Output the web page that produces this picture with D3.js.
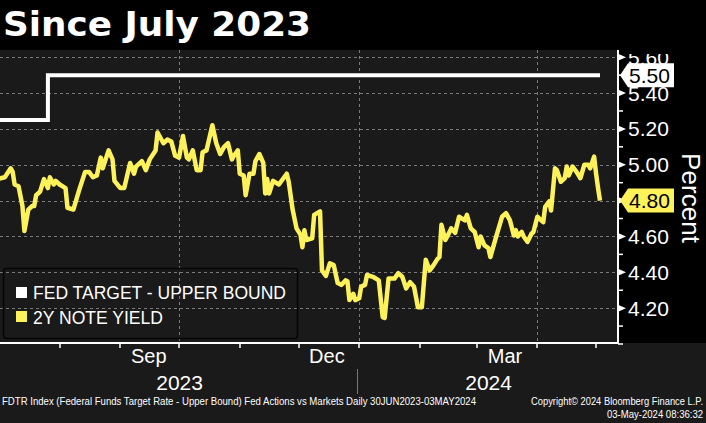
<!DOCTYPE html>
<html><head><meta charset="utf-8">
<script src="https://cdn.jsdelivr.net/npm/d3@7"></script>
<style>html,body{margin:0;padding:0;background:#1a1a1a;overflow:hidden}</style>
</head><body>
<svg id="c" width="706" height="423"></svg>
<script>
const yieldDates = ["2023-06-30","2023-07-04","2023-07-07","2023-07-08","2023-07-09","2023-07-11","2023-07-13","2023-07-14","2023-07-16","2023-07-18","2023-07-19","2023-07-20","2023-07-22","2023-07-24","2023-07-26","2023-07-27","2023-07-29","2023-07-30","2023-08-01","2023-08-04","2023-08-05","2023-08-08","2023-08-11","2023-08-14","2023-08-16","2023-08-18","2023-08-20","2023-08-22","2023-08-23","2023-08-26","2023-08-28","2023-08-29","2023-09-01","2023-09-03","2023-09-06","2023-09-08","2023-09-09","2023-09-12","2023-09-14","2023-09-16","2023-09-19","2023-09-20","2023-09-23","2023-09-25","2023-09-27","2023-09-29","2023-10-01","2023-10-03","2023-10-05","2023-10-06","2023-10-08","2023-10-10","2023-10-12","2023-10-13","2023-10-15","2023-10-18","2023-10-20","2023-10-22","2023-10-23","2023-10-24","2023-10-26","2023-10-28","2023-10-29","2023-10-31","2023-11-01","2023-11-03","2023-11-04","2023-11-06","2023-11-08","2023-11-09","2023-11-11","2023-11-13","2023-11-14","2023-11-15","2023-11-16","2023-11-18","2023-11-21","2023-11-22","2023-11-25","2023-11-26","2023-11-28","2023-11-30","2023-12-02","2023-12-03","2023-12-04","2023-12-05","2023-12-08","2023-12-09","2023-12-12","2023-12-13","2023-12-15","2023-12-17","2023-12-19","2023-12-21","2023-12-23","2023-12-25","2023-12-26","2023-12-27","2023-12-29","2023-12-30","2024-01-01","2024-01-02","2024-01-04","2024-01-05","2024-01-08","2024-01-11","2024-01-13","2024-01-14","2024-01-16","2024-01-19","2024-01-21","2024-01-23","2024-01-25","2024-01-27","2024-01-29","2024-01-31","2024-02-02","2024-02-04","2024-02-06","2024-02-08","2024-02-10","2024-02-11","2024-02-12","2024-02-14","2024-02-15","2024-02-17","2024-02-19","2024-02-21","2024-02-24","2024-02-25","2024-02-27","2024-02-29","2024-03-02","2024-03-03","2024-03-05","2024-03-07","2024-03-08","2024-03-11","2024-03-14","2024-03-16","2024-03-18","2024-03-20","2024-03-21","2024-03-22","2024-03-24","2024-03-25","2024-03-27","2024-03-29","2024-03-30","2024-04-01","2024-04-04","2024-04-05","2024-04-07","2024-04-08","2024-04-10","2024-04-11","2024-04-13","2024-04-15","2024-04-16","2024-04-17","2024-04-19","2024-04-21","2024-04-23","2024-04-25","2024-04-27","2024-04-28","2024-04-30","2024-05-01","2024-05-02","2024-05-03"];
const yieldValues = [4.92,4.93,4.98,4.96,4.89,4.88,4.77,4.63,4.75,4.77,4.77,4.83,4.85,4.92,4.87,4.93,4.89,4.91,4.89,4.87,4.76,4.75,4.86,4.96,4.96,4.93,4.94,5.04,4.98,5.08,5.03,4.91,4.87,4.87,5.01,4.95,4.99,5.02,4.97,5.03,5.08,5.18,5.12,5.14,5.13,5.05,5.04,5.16,5.04,5.03,5.08,4.97,4.97,5.07,5.08,5.22,5.12,5.06,5.08,5.10,5.12,5.03,5.05,5.08,4.95,4.94,4.83,4.95,4.95,5.02,5.06,5.01,4.84,4.92,4.84,4.91,4.89,4.905,4.95,4.905,4.75,4.645,4.61,4.54,4.635,4.58,4.59,4.72,4.74,4.41,4.38,4.45,4.44,4.34,4.33,4.355,4.35,4.245,4.28,4.245,4.255,4.32,4.33,4.385,4.375,4.355,4.15,4.145,4.365,4.365,4.395,4.375,4.31,4.345,4.32,4.205,4.205,4.47,4.41,4.44,4.475,4.485,4.665,4.58,4.60,4.645,4.62,4.71,4.69,4.72,4.645,4.625,4.54,4.60,4.55,4.535,4.485,4.60,4.71,4.73,4.69,4.605,4.635,4.60,4.625,4.60,4.57,4.615,4.625,4.71,4.68,4.765,4.795,4.745,4.98,4.97,4.905,4.925,4.99,4.94,4.99,4.96,4.925,5.00,5.00,4.98,5.045,4.95,4.87,4.80];
const fedDates = ["2023-06-30","2023-07-26","2024-05-03"];
const fedValues = [5.25, 5.50, 5.50];
const yMajorTicks = [4.20,4.40,4.60,4.80,5.00,5.20,5.40,5.60];
const yMinorTicks = [4.00,4.10,4.30,4.50,4.70,4.90,5.10,5.30,5.50];
const monthLabels = ["Sep","Dec","Mar"];
const monthLabelDates = ["2023-09-15","2023-12-15","2024-03-15"];
const quarterGridDates = ["2023-10-01","2024-01-01","2024-04-01"];
const yearLabels = ["2023","2024"];
const legendLabels = ["FED TARGET - UPPER BOUND","2Y NOTE YIELD"];
const lastValues = [5.50, 4.80];
const title = "Since July 2023";
const axisTitle = "Percent";
const footerLeft = "FDTR Index (Federal Funds Target Rate - Upper Bound) Fed Actions vs Markets  Daily 30JUN2023-03MAY2024";
const footerRight1 = "Copyright\u00A9 2024 Bloomberg Finance L.P.";
const footerRight2 = "03-May-2024 08:36:32";

const WHITE = "#ffffff", YELLOW = "#fdf25a", GRID = "#7a7a7a";
const FONT = "'Liberation Sans', Arial, sans-serif";
const parse = d3.timeParse("%Y-%m-%d");
const svg = d3.select("#c");

const plot = {left: 0, right: 618, top: 50, bottom: 343};
const x = d3.scaleTime().domain([parse("2023-06-30"), parse("2024-05-03")]).range([-3, 600]);
const y = d3.scaleLinear().domain([4.0, 5.6]).range([344, 57.2]);

// backgrounds
svg.append("rect").attr("x",0).attr("y",0).attr("width",706).attr("height",423).attr("fill","#1a1a1a");
svg.append("rect").attr("x",plot.right).attr("y",plot.top).attr("width",706-plot.right).attr("height",plot.bottom-plot.top).attr("fill","#000");

// grid
const grid = svg.append("g").attr("stroke",GRID).attr("stroke-width",1).attr("stroke-dasharray","3,3");
grid.selectAll("line.h").data(yMajorTicks).join("line")
  .attr("x1",plot.left).attr("x2",plot.right).attr("y1",d=>Math.round(y(d))+0.5).attr("y2",d=>Math.round(y(d))+0.5);
grid.selectAll("line.v").data(quarterGridDates).join("line")
  .attr("x1",d=>Math.round(x(parse(d)))+0.5).attr("x2",d=>Math.round(x(parse(d)))+0.5).attr("y1",plot.top).attr("y2",plot.bottom);

// clip
svg.append("clipPath").attr("id","pc").append("rect")
  .attr("x",plot.left).attr("y",plot.top).attr("width",plot.right-plot.left).attr("height",plot.bottom-plot.top);

const fedData = fedDates.map((d,i)=>({d:parse(d), v:fedValues[i]}));
const yData = yieldDates.map((d,i)=>({d:parse(d), v:yieldValues[i]}));
const g = svg.append("g").attr("clip-path","url(#pc)");
g.append("path").datum(fedData)
  .attr("d", d3.line().x(p=>x(p.d)).y(p=>y(p.v)).curve(d3.curveStepAfter))
  .attr("fill","none").attr("stroke",WHITE).attr("stroke-width",4);
g.append("path").datum(yData)
  .attr("d", d3.line().x(p=>x(p.d)).y(p=>y(p.v)))
  .attr("fill","none").attr("stroke",YELLOW).attr("stroke-width",4.5).attr("stroke-linejoin","round");

// legend
const lg = svg.append("g");
lg.append("rect").attr("x",3.5).attr("y",268.5).attr("width",294).attr("height",70).attr("rx",3)
  .attr("fill","none").attr("stroke","#050505").attr("stroke-width",1.5);
const lcol = [WHITE, YELLOW];
legendLabels.forEach((t,i)=>{
  lg.append("rect").attr("x",16).attr("y",287+i*24).attr("width",11).attr("height",11).attr("fill",lcol[i]);
  const tx = lg.append("text").attr("x",33).attr("y",299+i*24.5).attr("fill","#fff")
    .attr("font-family",FONT).attr("font-size",18).text(t);
  if(i===0) tx.attr("textLength",253).attr("lengthAdjust","spacingAndGlyphs");
  else tx.attr("textLength",130).attr("lengthAdjust","spacingAndGlyphs");
});

// right axis
const ra = svg.append("g");
ra.selectAll("path.tk").data(yMajorTicks).join("path")
  .attr("d",d=>{const yy=y(d);return `M${plot.right},${yy-3.5}L${plot.right+8},${yy}L${plot.right},${yy+3.5}Z`;})
  .attr("fill",WHITE);
ra.selectAll("line.mt").data(yMinorTicks).join("line")
  .attr("x1",plot.right).attr("x2",plot.right+5).attr("y1",d=>y(d)).attr("y2",d=>y(d))
  .attr("stroke",WHITE).attr("stroke-width",1.5);
ra.selectAll("text").data(yMajorTicks).join("text")
  .attr("x",628).attr("y",d=>y(d)+7.5).attr("fill","#fff").attr("font-family",FONT).attr("font-size",21)
  .text(d=>d.toFixed(2));
// title band over right axis top
svg.append("rect").attr("x",0).attr("y",0).attr("width",706).attr("height",plot.top).attr("fill","#000");
svg.append("rect").attr("x",plot.right+1).attr("y",0).attr("width",706-plot.right).attr("height",54).attr("fill","#000");

// value tags
const tagCols = [WHITE, YELLOW];
lastValues.forEach((v,i)=>{
  const yy = y(v);
  svg.append("path").attr("d",`M620,${yy}L628,${yy-12}L674,${yy-12}L674,${yy+12}L628,${yy+12}Z`).attr("fill",tagCols[i]);
  svg.append("text").attr("x",629).attr("y",yy+7.5).attr("fill","#000").attr("font-family",FONT).attr("font-size",21).text(v.toFixed(2));
});

// axis lines
svg.append("line").attr("x1",plot.right).attr("x2",plot.right).attr("y1",plot.top).attr("y2",plot.bottom+1)
  .attr("stroke",WHITE).attr("stroke-width",2);
svg.append("line").attr("x1",0).attr("x2",plot.right+1).attr("y1",plot.bottom).attr("y2",plot.bottom)
  .attr("stroke",WHITE).attr("stroke-width",2);

// bottom ticks
const months = x.ticks(d3.timeMonth.every(1)).filter(d=>x(d)>=0 && x(d)<=plot.right);
svg.selectAll("line.bt").data(months).join("line")
  .attr("x1",d=>Math.round(x(d))).attr("x2",d=>Math.round(x(d))).attr("y1",plot.bottom).attr("y2",plot.bottom+5)
  .attr("stroke",WHITE).attr("stroke-width",1.5);
svg.selectAll("text.ml").data(monthLabels).join("text")
  .attr("x",(d,i)=>x(parse(monthLabelDates[i]))+1).attr("y",363).attr("text-anchor","middle")
  .attr("fill","#fff").attr("font-family",FONT).attr("font-size",20).text(d=>d);
const jan = x(parse("2024-01-01"));
const yearCenters = [(0+jan)/2, (jan+plot.right)/2];
svg.selectAll("text.yl").data(yearLabels).join("text")
  .attr("x",(d,i)=>yearCenters[i]).attr("y",390).attr("text-anchor","middle")
  .attr("fill","#fff").attr("font-family",FONT).attr("font-size",21).text(d=>d);
svg.append("line").attr("x1",Math.round(jan)-1.5).attr("x2",Math.round(jan)-1.5).attr("y1",369).attr("y2",394)
  .attr("stroke","#777").attr("stroke-width",1);

// axis title
svg.append("text").attr("transform","translate(682,198) rotate(90)").attr("text-anchor","middle")
  .attr("fill","#fff").attr("font-family",FONT).attr("font-size",25)
  .attr("textLength",90).attr("lengthAdjust","spacingAndGlyphs").text(axisTitle);

// title
svg.append("text").attr("x",3).attr("y",36).attr("fill","#fff").attr("font-family","'DejaVu Sans', Verdana, sans-serif")
  .attr("font-weight","bold").attr("font-size",33).attr("textLength",308).attr("lengthAdjust","spacingAndGlyphs").text(title);

// footer
const FF = "'Liberation Sans Narrow','Liberation Sans',Arial,sans-serif";
svg.append("text").attr("x",2).attr("y",405).attr("fill","#fff").attr("font-family",FF).attr("font-size",10)
  .attr("textLength",474).attr("lengthAdjust","spacingAndGlyphs").text(footerLeft);
svg.append("text").attr("x",531).attr("y",405).attr("fill","#fff").attr("font-family",FF).attr("font-size",10)
  .attr("textLength",172).attr("lengthAdjust","spacingAndGlyphs").text(footerRight1);
svg.append("text").attr("x",607).attr("y",418).attr("fill","#fff").attr("font-family",FF).attr("font-size",10)
  .attr("textLength",96).attr("lengthAdjust","spacingAndGlyphs").text(footerRight2);
</script>
</body></html>
